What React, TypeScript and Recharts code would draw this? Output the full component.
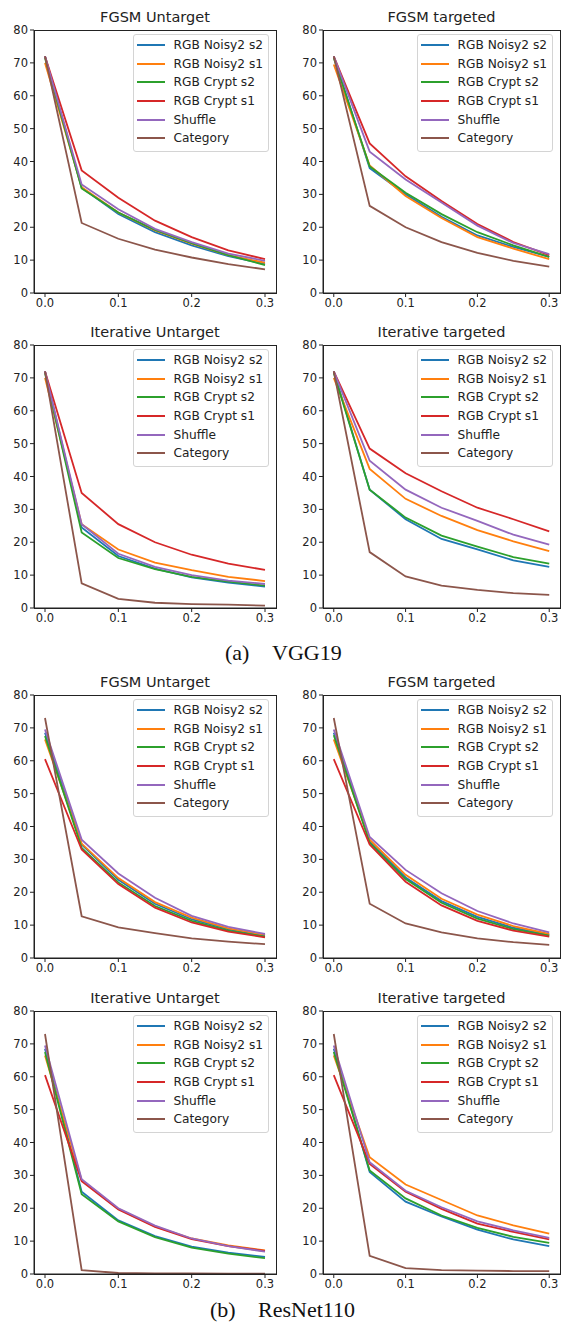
import React from "react";
import {
  LineChart,
  Line,
  XAxis,
  YAxis,
  Legend,
} from "recharts";

// perturbation size (x) and the six defences plotted in every panel
const EPS = [0, 0.05, 0.1, 0.15, 0.2, 0.25, 0.3];
const SERIES = ["RGB Noisy2 s2", "RGB Noisy2 s1", "RGB Crypt s2", "RGB Crypt s1", "Shuffle", "Category"];
const COLORS = ["#1f77b4", "#ff7f0e", "#2ca02c", "#d62728", "#9467bd", "#8c564b"];
const X_TICKS = [0, 0.1, 0.2, 0.3];
const Y_TICKS = [0, 10, 20, 30, 40, 50, 60, 70, 80];

// accuracy per series, same order as SERIES
const vggFgsmUntarget = [
  [72, 32, 24, 18.5, 14.5, 11.2, 8.8],
  [70, 32.2, 24.5, 19, 15, 11.5, 9.2],
  [71.5, 31.8, 24.5, 19.2, 15.2, 11.5, 8.5],
  [72, 37.3, 29, 22, 17, 13, 10.3],
  [72, 33, 25.5, 19.5, 15.5, 12, 9.8],
  [72, 21.3, 16.5, 13.2, 10.8, 8.8, 7.2],
];
const vggFgsmTargeted = [
  [72, 38, 30, 23.2, 17.5, 14, 11],
  [69.5, 38.8, 29.5, 22.8, 17, 13.5, 10.3],
  [71.5, 38.5, 30.5, 24, 18.5, 14.5, 11],
  [72, 45.5, 35.5, 28, 21, 15.5, 11.5],
  [72, 43, 34.5, 27.5, 20.5, 15.2, 11.8],
  [72, 26.5, 20, 15.5, 12.2, 9.8, 8],
];
const vggIterUntarget = [
  [72, 24.5, 15.8, 12, 9.3, 7.7, 6.5],
  [70, 25.5, 17.8, 13.8, 11.5, 9.5, 8.2],
  [71.5, 23, 15.2, 11.8, 9.5, 8, 6.8],
  [72, 35, 25.5, 20, 16.2, 13.5, 11.6],
  [72, 25.5, 16.5, 12.5, 10, 8.3, 7.3],
  [72, 7.5, 2.8, 1.6, 1.2, 1, 0.7],
];
const vggIterTargeted = [
  [72, 36, 27, 21, 17.8, 14.5, 12.5],
  [70, 42.3, 33.2, 28, 23.7, 20.3, 17.3],
  [71.5, 36, 27.5, 22, 18.7, 15.5, 13.5],
  [72, 48.5, 41, 35.5, 30.5, 27, 23.3],
  [72, 44.8, 36, 30.5, 26.5, 22.3, 19.3],
  [72, 17, 9.6, 6.8, 5.5, 4.5, 4],
];
const resFgsmUntarget = [
  [68.5, 34.5, 23.8, 16.5, 11.8, 8.7, 6.8],
  [66.5, 34.8, 24.3, 17, 12.3, 9, 7],
  [67.5, 33.5, 23, 15.8, 11.3, 8.3, 6.5],
  [60.5, 33, 22.5, 15.3, 10.8, 8, 6.3],
  [69.5, 36, 25.7, 18.3, 12.8, 9.5, 7.3],
  [73, 12.7, 9.3, 7.6, 6, 5, 4.2],
];
const resFgsmTargeted = [
  [68.5, 35.5, 24.5, 17.3, 12.5, 9.2, 7],
  [66.5, 36, 25.3, 18, 13.2, 9.7, 7.3],
  [67.8, 35, 24, 16.8, 12, 8.8, 6.8],
  [60.5, 34.5, 23.2, 16, 11.3, 8.3, 6.5],
  [69.5, 36.8, 26.8, 19.7, 14.3, 10.5, 7.8],
  [73, 16.5, 10.5, 7.8, 6, 4.8, 4],
];
const resIterUntarget = [
  [68.5, 25, 16.3, 11.5, 8.3, 6.5, 5.2],
  [66.5, 28.5, 19.8, 14.5, 10.8, 8.7, 7.2],
  [67.5, 24.3, 16, 11.2, 8, 6.2, 4.8],
  [60.5, 28.2, 19.6, 14.3, 10.6, 8.5, 7],
  [69.5, 28.8, 20, 14.7, 10.8, 8.5, 6.8],
  [73, 1.2, 0.3, 0.2, 0.2, 0.1, 0.1],
];
const resIterTargeted = [
  [68.5, 31, 22, 17.5, 13.5, 10.5, 8.5],
  [66.5, 35.5, 27.2, 22.5, 17.8, 14.8, 12.3],
  [67.5, 31.5, 23, 17.8, 14, 11.3, 9.5],
  [60.5, 33.5, 25, 19.8, 15.3, 12.8, 10.5],
  [69.5, 34, 25.3, 20.3, 16, 13.3, 11],
  [73, 5.5, 1.8, 1.2, 1, 0.9, 0.9],
];

const LEFT_COL = { left: 0, plotWidth: 242 };
const RIGHT_COL = { left: 289, plotWidth: 237 };

const PANELS = [
  { title: "FGSM Untarget", values: vggFgsmUntarget, col: LEFT_COL, plotTop: 30 },
  { title: "FGSM targeted", values: vggFgsmTargeted, col: RIGHT_COL, plotTop: 30 },
  { title: "Iterative Untarget", values: vggIterUntarget, col: LEFT_COL, plotTop: 345 },
  { title: "Iterative targeted", values: vggIterTargeted, col: RIGHT_COL, plotTop: 345 },
  { title: "FGSM Untarget", values: resFgsmUntarget, col: LEFT_COL, plotTop: 695 },
  { title: "FGSM targeted", values: resFgsmTargeted, col: RIGHT_COL, plotTop: 695 },
  { title: "Iterative Untarget", values: resIterUntarget, col: LEFT_COL, plotTop: 1011 },
  { title: "Iterative targeted", values: resIterTargeted, col: RIGHT_COL, plotTop: 1011 },
];

const INK = "#222";
const PLOT_H = 263;
const MT = 6;
const MR = 9;
const Y_W = 34;
const X_H = 26;

function LegendBox() {
  return (
    <div
      style={{
        border: "1px solid #d4d4d4",
        borderRadius: 3,
        background: "rgba(255,255,255,0.85)",
        padding: "1px 5px 3px 3px",
        fontSize: 12.2,
        color: INK,
      }}
    >
      {SERIES.map((name, i) => (
        <div key={name} style={{ display: "flex", alignItems: "center", height: 18.6 }}>
          <div style={{ width: 28, height: 2, background: COLORS[i], marginRight: 8.5 }} />
          <span style={{ whiteSpace: "nowrap" }}>{name}</span>
        </div>
      ))}
    </div>
  );
}

function Panel({ title, values, left, plotWidth, plotTop }: any) {
  const rows = EPS.map((eps, i) => {
    const row: any = { eps };
    SERIES.forEach((s, j) => {
      row[s] = values[j][i];
    });
    return row;
  });
  const width = Y_W + plotWidth + MR;
  const height = MT + PLOT_H + X_H;

  return (
    <div style={{ position: "absolute", left, top: plotTop - MT, width, height }}>
      <div
        style={{
          position: "absolute",
          left: Y_W,
          width: plotWidth,
          top: MT - 22,
          lineHeight: "18px",
          textAlign: "center",
          fontSize: 14.5,
          color: INK,
        }}
      >
        {title}
      </div>
      <LineChart width={width} height={height} data={rows} margin={{ top: MT, right: MR, bottom: 0, left: 0 }}>
        <XAxis
          dataKey="eps"
          type="number"
          domain={[-0.015, 0.315]}
          ticks={X_TICKS}
          allowDataOverflow
          tickFormatter={(v: number) => v.toFixed(1)}
          height={X_H}
          tickSize={4}
          tickMargin={2}
          stroke={INK}
          tick={{ fill: INK, fontSize: 11.5 }}
        />
        <YAxis
          type="number"
          domain={[0, 80]}
          ticks={Y_TICKS}
          width={Y_W}
          tickSize={4}
          tickMargin={2}
          stroke={INK}
          tick={{ fill: INK, fontSize: 11.5 }}
        />
        {SERIES.map((s, i) => (
          <Line
            key={s}
            type="linear"
            dataKey={s}
            stroke={COLORS[i]}
            strokeWidth={1.8}
            dot={false}
            isAnimationActive={false}
          />
        ))}
        <Legend
          layout="vertical"
          align="center"
          verticalAlign="middle"
          content={() => <LegendBox />}
          wrapperStyle={{ left: "auto", right: MR + 7, top: MT + 4, width: "auto" }}
        />
      </LineChart>
      {/* matplotlib-style box around the plot area */}
      <div
        style={{
          position: "absolute",
          left: Y_W - 0.5,
          top: MT - 0.5,
          width: plotWidth + 1,
          height: PLOT_H + 1,
          border: `1px solid ${INK}`,
          boxSizing: "border-box",
          pointerEvents: "none",
        }}
      />
    </div>
  );
}

export default function App() {
  return (
    <div
      style={{
        position: "absolute",
        left: 0,
        top: 0,
        width: 569,
        height: 1334,
        background: "#fff",
        fontFamily: "'DejaVu Sans', sans-serif",
      }}
    >
      {PANELS.map((p, i) => (
        <Panel
          key={i}
          title={p.title}
          values={p.values}
          left={p.col.left}
          plotWidth={p.col.plotWidth}
          plotTop={p.plotTop}
        />
      ))}

      {/* sub-figure captions */}
      <div style={{ position: "absolute", top: 640, left: 0, width: 569, height: 26, fontFamily: "'Liberation Serif', serif", fontSize: 22, lineHeight: "26px", color: "#111" }}>
        <span style={{ position: "absolute", left: 225 }}>(a)</span>
        <span style={{ position: "absolute", left: 272 }}>VGG19</span>
      </div>
      <div style={{ position: "absolute", top: 1297, left: 0, width: 569, height: 26, fontFamily: "'Liberation Serif', serif", fontSize: 22, lineHeight: "26px", color: "#111" }}>
        <span style={{ position: "absolute", left: 210 }}>(b)</span>
        <span style={{ position: "absolute", left: 258 }}>ResNet110</span>
      </div>
    </div>
  );
}
